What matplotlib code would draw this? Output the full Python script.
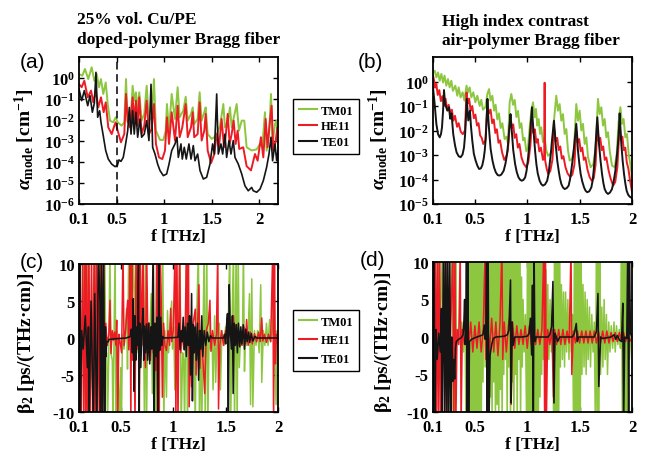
import matplotlib
matplotlib.use("Agg")
import numpy as np
from matplotlib import pyplot as plt
from matplotlib.lines import Line2D
from matplotlib.ticker import NullLocator

GREEN = "#8dc63f"
RED = "#ed1c24"
BLACK = "#151515"
LABELS = ["TM01", "HE11", "TE01"]

# ---------- (a) doped-polymer fiber, loss (log10 of alpha in cm^-1) ----------
f_a_tm = [0.100, 0.135, 0.163, 0.198, 0.234, 0.262, 0.287, 0.311, 0.332, 0.356, 0.382, 0.403, 0.427, 0.462,
          0.487, 0.508, 0.550, 0.578, 0.596, 0.614, 0.649, 0.666, 0.683, 0.701, 0.719, 0.736, 0.761, 0.789,
          0.814, 0.838, 0.867, 0.891, 0.912, 0.955, 0.990, 1.015, 1.028, 1.050, 1.078, 1.113, 1.141, 1.162,
          1.200, 1.226, 1.247, 1.282, 1.300, 1.316, 1.352, 1.373, 1.394, 1.422, 1.437, 1.458, 1.500, 1.528,
          1.553, 1.588, 1.623, 1.640, 1.675, 1.693, 1.711, 1.746, 1.764, 1.788, 1.817, 1.844, 1.869, 1.922,
          1.975, 2.010, 2.034, 2.062, 2.080, 2.108, 2.126, 2.143, 2.168, 2.186, 2.200]
lg_a_tm = [0.19, 0.11, 0.43, -0.05, 0.51, -0.13, 0.19, -0.44, -0.05, -0.76, -0.21, -1.24, -2.03, -2.11,
           -1.87, -2.11, -2.27, -2.11, -0.05, -2.11, -1.71, -0.37, -1.08, -0.68, -1.56, -0.68, -2.03, -1.71,
           -0.37, -2.03, -1.87, -0.05, -2.51, -2.95, -2.95, -2.51, -1.24, -2.51, -0.76, -1.95, -0.44, -1.87,
           -1.56, -0.89, -2.03, -1.71, -1.40, -2.19, -1.95, -0.68, -2.03, -1.63, -1.40, -2.67, -2.90, -2.82,
           -2.67, -2.27, -1.24, -2.35, -2.03, -1.40, -2.35, -1.63, -1.24, -2.51, -2.03, -2.03, -3.30, -3.45,
           -3.40, -3.14, -3.30, -1.63, -3.46, -2.51, -0.76, -3.14, -2.19, -2.03, -3.30]

f_a_he = [0.100, 0.128, 0.156, 0.192, 0.227, 0.251, 0.276, 0.304, 0.332, 0.360, 0.382, 0.409, 0.445, 0.473,
          0.487, 0.508, 0.543, 0.578, 0.596, 0.614, 0.638, 0.666, 0.683, 0.701, 0.719, 0.736, 0.761, 0.789,
          0.814, 0.838, 0.867, 0.891, 0.912, 0.944, 0.979, 1.007, 1.028, 1.050, 1.078, 1.113, 1.141, 1.162,
          1.190, 1.226, 1.247, 1.282, 1.300, 1.316, 1.352, 1.373, 1.394, 1.422, 1.437, 1.458, 1.494, 1.528,
          1.553, 1.577, 1.605, 1.630, 1.648, 1.669, 1.690, 1.711, 1.732, 1.753, 1.774, 1.791, 1.833, 1.869,
          1.915, 1.957, 1.985, 2.020, 2.045, 2.070, 2.090, 2.115, 2.133, 2.150, 2.176, 2.193, 2.200]
lg_a_he = [-0.29, -0.44, -0.13, -0.92, -0.60, -1.16, -0.60, -1.40, -0.92, -1.63, -1.16, -2.35, -2.67, -2.27,
           -2.11, -2.51, -3.06, -2.67, -0.76, -2.03, -2.35, -0.92, -2.03, -1.08, -2.27, -0.92, -2.67, -2.27,
           -1.08, -2.67, -2.43, -1.24, -3.14, -3.78, -3.86, -3.46, -1.87, -3.14, -1.63, -2.98, -1.32, -2.82,
           -2.35, -1.24, -2.82, -2.35, -1.63, -2.82, -2.67, -1.16, -2.98, -2.51, -1.71, -3.46, -4.05, -3.62,
           -2.67, -3.30, -1.95, -3.30, -2.75, -1.71, -3.14, -2.67, -2.03, -3.14, -2.51, -3.38, -3.30, -4.20,
           -4.40, -3.62, -3.94, -2.82, -3.78, -1.95, -3.30, -2.03, -1.32, -3.46, -2.98, -2.35, -3.14]

f_a_te = [0.100, 0.128, 0.156, 0.192, 0.216, 0.241, 0.262, 0.279, 0.297, 0.318, 0.332, 0.356, 0.382, 0.409,
          0.445, 0.480, 0.504, 0.522, 0.543, 0.567, 0.592, 0.614, 0.631, 0.649, 0.666, 0.683, 0.701, 0.719,
          0.744, 0.761, 0.789, 0.814, 0.838, 0.860, 0.877, 0.902, 0.930, 0.955, 0.990, 1.025, 1.050, 1.078,
          1.113, 1.134, 1.148, 1.176, 1.190, 1.211, 1.232, 1.260, 1.282, 1.306, 1.324, 1.352, 1.377, 1.412,
          1.447, 1.482, 1.510, 1.528, 1.553, 1.570, 1.598, 1.616, 1.640, 1.658, 1.683, 1.704, 1.728, 1.746,
          1.781, 1.817, 1.851, 1.886, 1.922, 1.939, 1.975, 2.010, 2.045, 2.080, 2.105, 2.126, 2.143, 2.168,
          2.186, 2.200]
lg_a_te = [-0.52, -1.08, -0.60, -1.32, -0.84, -1.63, -1.20, 0.27, -1.87, -1.56, -2.11, -2.75, -3.46, -3.86,
           -4.10, -4.22, -4.17, -3.90, -3.97, -3.78, -3.14, -2.51, -1.40, -2.67, -1.56, -2.67, -1.63, -2.82,
           -1.95, -2.82, -2.67, -2.03, -2.98, -0.30, -3.30, -3.62, -4.10, -4.41, -4.65, -4.57, -4.10, -3.46,
           -3.14, -2.82, -3.78, -3.14, -3.86, -3.30, -3.86, -3.14, -3.86, -3.22, -3.94, -3.62, -4.41, -4.81,
           -4.73, -4.10, -3.14, -3.62, -0.76, -3.62, -3.14, -3.62, -2.67, -3.78, -2.98, -3.62, -2.98, -3.78,
           -4.10, -4.57, -5.13, -5.37, -5.21, -5.37, -5.44, -5.29, -4.89, -4.25, -3.62, -2.82, -3.94, -3.14,
           -3.94, -3.46]

# ---------- (b) air-polymer fiber, loss (f, log10 alpha) ----------
a_b_tm = [(0.100, 0.37), (0.116, 0.44), (0.132, 0.17), (0.148, 0.37), (0.164, 0.03), (0.180, 0.31),
          (0.196, -0.04), (0.210, 0.24), (0.227, -0.17), (0.243, 0.10), (0.259, -0.24), (0.275, 0.03),
          (0.290, -0.38), (0.313, -0.17), (0.332, -0.58), (0.345, -0.24), (0.364, -0.65), (0.383, -0.44),
          (0.400, -0.78), (0.420, -0.17), (0.434, -0.44), (0.450, -0.24), (0.466, -0.65), (0.485, -0.44),
          (0.504, -0.85), (0.523, -0.58), (0.546, -1.00), (0.561, -0.75), (0.577, -1.15), (0.600, -1.05),
          (0.619, -0.51), (0.635, -0.31), (0.650, -0.78), (0.667, -0.58), (0.683, -1.19), (0.698, -0.95),
          (0.714, -1.55), (0.730, -1.30), (0.746, -1.90), (0.762, -1.70), (0.784, -2.35), (0.803, -2.25),
          (0.816, -2.55), (0.832, -0.85), (0.848, -0.51), (0.864, -0.95), (0.880, -0.75), (0.896, -1.45),
          (0.912, -1.20), (0.928, -1.90), (0.944, -1.70), (0.960, -2.40), (0.975, -2.30), (0.991, -2.85),
          (1.007, -2.69), (1.023, -1.87), (1.039, -1.19), (1.055, -0.85), (1.071, -1.46), (1.083, -1.12),
          (1.096, -1.80), (1.109, -1.53), (1.122, -2.14), (1.134, -1.87), (1.150, -2.48), (1.166, -2.28),
          (1.182, -2.82), (1.198, -3.03), (1.217, -2.96), (1.236, -2.82), (1.255, -1.60), (1.277, -0.58),
          (1.293, -1.19), (1.309, -0.92), (1.325, -1.60), (1.341, -1.33), (1.357, -2.14), (1.373, -1.94),
          (1.389, -2.82), (1.405, -3.23), (1.427, -3.16), (1.446, -2.82), (1.468, -0.92), (1.484, -1.60),
          (1.500, -1.19), (1.516, -2.00), (1.532, -1.73), (1.548, -2.55), (1.564, -2.28), (1.580, -3.09),
          (1.605, -3.50), (1.631, -3.37), (1.653, -2.69), (1.675, -0.71), (1.691, -1.33), (1.707, -1.05),
          (1.723, -1.80), (1.739, -1.53), (1.755, -2.28), (1.771, -2.07), (1.787, -2.82), (1.809, -3.43),
          (1.835, -3.50), (1.854, -2.96), (1.873, -1.60), (1.889, -1.05), (1.905, -1.73), (1.920, -1.53),
          (1.936, -2.28), (1.952, -2.14), (1.968, -2.96), (1.984, -3.37), (2.000, -3.90)]

a_b_he = [(0.100, 0.24), (0.110, 0.05), (0.120, -0.25), (0.132, -0.10), (0.145, -0.55), (0.160, -0.35),
          (0.175, -0.80), (0.190, -0.60), (0.205, -1.00), (0.220, -0.70), (0.235, -1.15), (0.250, -0.95),
          (0.265, -1.35), (0.280, -1.15), (0.295, -1.60), (0.310, -1.40), (0.330, -1.85), (0.345, -1.70),
          (0.365, -2.05), (0.385, -2.15), (0.405, -2.00), (0.420, -0.45), (0.432, -0.90), (0.445, -0.70),
          (0.460, -1.20), (0.475, -1.00), (0.490, -1.50), (0.505, -1.35), (0.520, -1.80), (0.535, -1.70),
          (0.550, -2.20), (0.565, -2.30), (0.580, -2.55), (0.600, -2.40), (0.620, -0.95), (0.635, -1.30),
          (0.650, -1.15), (0.665, -1.70), (0.680, -1.55), (0.695, -2.10), (0.710, -1.95), (0.725, -2.50),
          (0.740, -2.40), (0.760, -2.90), (0.780, -3.20), (0.800, -3.05), (0.815, -2.80), (0.840, -1.40),
          (0.852, -1.90), (0.866, -1.75), (0.880, -2.30), (0.895, -2.15), (0.910, -2.70), (0.925, -2.55),
          (0.945, -3.10), (0.965, -3.35), (0.990, -3.50), (1.010, -3.30), (1.030, -2.60), (1.045, -1.55),
          (1.058, -2.10), (1.072, -1.95), (1.087, -2.50), (1.100, -2.35), (1.115, -2.85), (1.130, -2.70),
          (1.150, -3.20), (1.162, -3.10), (1.166, -0.05), (1.170, -3.20), (1.185, -3.55), (1.200, -3.78),
          (1.220, -3.65), (1.240, -3.20), (1.258, -1.95), (1.272, -2.45), (1.286, -2.30), (1.300, -2.80),
          (1.315, -2.65), (1.330, -3.15), (1.345, -3.05), (1.365, -3.50), (1.385, -3.75), (1.410, -3.90),
          (1.430, -3.80), (1.450, -3.40), (1.468, -2.00), (1.482, -2.50), (1.496, -2.35), (1.510, -2.85),
          (1.525, -2.70), (1.540, -3.20), (1.555, -3.10), (1.575, -3.60), (1.595, -3.90), (1.615, -4.05),
          (1.635, -3.95), (1.652, -3.40), (1.669, -1.90), (1.683, -2.45), (1.697, -2.30), (1.711, -2.80),
          (1.725, -2.65), (1.740, -3.20), (1.755, -3.10), (1.775, -3.60), (1.795, -3.95), (1.820, -4.25),
          (1.840, -4.10), (1.860, -3.50), (1.882, -1.80), (1.895, -2.40), (1.908, -2.25), (1.922, -2.80),
          (1.936, -2.70), (1.950, -3.30), (1.965, -3.55), (1.980, -4.00), (2.000, -4.50)]

a_b_te = [(0.100, -0.24), (0.116, -0.92), (0.132, -1.73), (0.148, -2.15), (0.164, -2.28), (0.176, -2.15),
          (0.186, -1.87), (0.196, -1.20), (0.205, -0.35), (0.215, -0.90), (0.237, -1.19), (0.253, -1.05),
          (0.264, -1.52), (0.277, -1.30), (0.293, -2.14), (0.310, -2.60), (0.325, -2.89), (0.345, -3.05),
          (0.364, -3.09), (0.382, -2.98), (0.396, -2.70), (0.406, -2.20), (0.412, -1.73), (0.422, -0.71),
          (0.437, -1.59), (0.453, -1.19), (0.462, -1.80), (0.475, -2.41), (0.490, -2.95), (0.507, -3.23),
          (0.525, -3.45), (0.540, -3.57), (0.556, -3.55), (0.570, -3.43), (0.584, -3.15), (0.594, -2.82),
          (0.604, -2.30), (0.610, -1.73), (0.620, -0.71), (0.628, -1.50), (0.636, -2.00), (0.650, -2.75),
          (0.668, -3.23), (0.684, -3.52), (0.700, -3.71), (0.718, -3.82), (0.734, -3.84), (0.752, -3.80),
          (0.775, -3.64), (0.792, -3.35), (0.807, -2.96), (0.818, -2.50), (0.826, -2.00), (0.840, -1.33),
          (0.846, -1.70), (0.852, -2.00), (0.866, -2.80), (0.884, -3.37), (0.900, -3.70), (0.916, -3.91),
          (0.932, -4.01), (0.948, -4.05), (0.965, -4.01), (0.980, -3.91), (0.993, -3.65), (1.005, -3.23),
          (1.016, -2.75), (1.024, -2.28), (1.035, -1.60), (1.045, -1.05), (1.052, -1.60), (1.064, -2.28),
          (1.076, -2.90), (1.087, -3.37), (1.100, -3.75), (1.118, -4.05), (1.134, -4.19), (1.150, -4.25),
          (1.170, -4.20), (1.190, -4.05), (1.203, -3.78), (1.214, -3.37), (1.226, -2.90), (1.236, -2.41),
          (1.246, -2.00), (1.255, -1.60), (1.264, -2.10), (1.274, -2.69), (1.287, -3.25), (1.300, -3.64),
          (1.312, -3.95), (1.325, -4.18), (1.340, -4.32), (1.357, -4.39), (1.377, -4.35), (1.395, -4.25),
          (1.408, -4.00), (1.420, -3.64), (1.433, -3.20), (1.446, -2.69), (1.457, -2.20), (1.468, -1.73),
          (1.476, -2.20), (1.484, -2.82), (1.497, -3.35), (1.510, -3.78), (1.525, -4.08), (1.542, -4.32),
          (1.557, -4.46), (1.573, -4.52), (1.592, -4.48), (1.612, -4.32), (1.624, -4.05), (1.634, -3.64),
          (1.644, -3.15), (1.653, -2.55), (1.661, -2.00), (1.669, -1.46), (1.677, -2.00), (1.685, -2.55),
          (1.700, -3.25), (1.714, -3.78), (1.727, -4.15), (1.739, -4.39), (1.755, -4.53), (1.771, -4.59),
          (1.790, -4.53), (1.809, -4.39), (1.826, -4.05), (1.841, -3.64), (1.854, -3.10), (1.866, -2.55),
          (1.875, -1.95), (1.882, -1.30), (1.890, -1.95), (1.898, -2.55), (1.911, -3.25), (1.924, -3.78),
          (1.937, -4.18), (1.949, -4.46), (1.963, -4.62), (1.978, -4.70), (2.000, -4.76)]

# ---------- (c) doped-polymer fiber, dispersion (f, beta2) ----------
b2_c_tm = [(0.100, 12), (0.105, -12), (0.150, 12), (0.160, -12), (0.190, 12), (0.196, -12), (0.250, 12),
           (0.258, -12), (0.300, 12), (0.310, -12), (0.345, 12), (0.355, -1.0), (0.365, -2.1), (0.372, -12),
           (0.385, -1.5), (0.395, 12), (0.405, -2.0), (0.418, -3.0), (0.424, -12), (0.435, 1.0), (0.445, 12),
           (0.452, -12), (0.462, 1.0), (0.475, -5.0), (0.488, -12), (0.498, -4.0), (0.505, -12), (0.515, 0.5),
           (0.530, -1.5), (0.545, 2.0), (0.555, 4.0), (0.563, -4.2), (0.575, 12), (0.585, -1.0), (0.600, 2.0),
           (0.620, 12), (0.630, 0.0), (0.645, 12), (0.652, -0.5), (0.665, -2.0), (0.680, 1.0), (0.695, -1.0),
           (0.710, 12), (0.717, 0.0), (0.725, -12), (0.735, 12), (0.745, -12), (0.755, 2.0), (0.770, -2.0),
           (0.790, 6.0), (0.800, -7.5), (0.810, 12), (0.818, -1.0), (0.826, -3.0), (0.832, -12), (0.845, 2.0),
           (0.860, -2.0), (0.875, 3.0), (0.890, -1.0), (0.900, 12), (0.910, -12), (0.920, 1.0), (0.935, -8.0),
           (0.945, 3.7), (0.955, -2.0), (0.970, 2.0), (0.985, 5.0), (0.992, -1.5), (1.005, 1.5), (1.015, -7.0),
           (1.030, 1.0), (1.050, -1.0), (1.065, 12), (1.075, -12), (1.090, -2.0), (1.100, -3.0), (1.108, -12),
           (1.118, 1.0), (1.126, 12), (1.135, -12), (1.150, 1.0), (1.170, -1.0), (1.185, 2.0), (1.200, -2.0),
           (1.210, -12), (1.220, 1.0), (1.240, 12), (1.250, -12), (1.265, 1.0), (1.272, -12), (1.285, 2.0),
           (1.295, 12), (1.305, -12), (1.320, 12), (1.330, -12), (1.345, 3.5), (1.355, -1.5), (1.370, 0.5),
           (1.380, -7.0), (1.395, 3.0), (1.405, -6.0), (1.420, 1.0), (1.440, 2.0), (1.450, -7.0), (1.465, 1.0),
           (1.485, -1.0), (1.500, 1.5), (1.520, -1.0), (1.540, 12), (1.548, -12), (1.560, 1.0), (1.575, 12),
           (1.585, -12), (1.600, 12), (1.610, -12), (1.620, 12), (1.630, -4.0), (1.645, 1.0), (1.660, -1.0),
           (1.670, 12), (1.680, -4.5), (1.690, 1.0), (1.700, -1.0), (1.715, 1.0), (1.728, 6.0), (1.738, -9.0),
           (1.750, 8.0), (1.760, -9.3), (1.775, 1.0), (1.790, -1.0), (1.805, 1.0), (1.820, -2.0), (1.835, 7.2),
           (1.845, -6.0), (1.860, 1.0), (1.875, -1.0), (1.890, 2.0), (1.905, -1.0), (1.920, 2.5), (1.930, -0.5),
           (1.945, 1.0), (1.960, 5.0), (1.970, -3.0), (1.982, -9.0), (1.992, 1.0), (2.000, -2.0)]

b2_c_he = [(0.100, -12), (0.110, 12), (0.120, -12), (0.135, 12), (0.145, -12), (0.157, 12), (0.165, -12),
           (0.173, 12), (0.182, -12), (0.195, 12), (0.205, -12), (0.220, 12), (0.230, -12), (0.245, 12),
           (0.253, -12), (0.265, 12), (0.275, -12), (0.285, 12), (0.295, -12), (0.310, 12), (0.320, -12),
           (0.335, 12), (0.342, -12), (0.355, 2.0), (0.370, -1.0), (0.385, 0.5), (0.396, 5.1), (0.405, -2.1),
           (0.418, 1.0), (0.428, -0.3), (0.440, 0.8), (0.452, -1.0), (0.460, 2.4), (0.470, -12), (0.480, 0.5),
           (0.492, -0.5), (0.507, -2.0), (0.520, 12), (0.530, -1.0), (0.545, 1.0), (0.555, 3.3), (0.565, 5.1),
           (0.575, -1.6), (0.587, 12), (0.595, -12), (0.603, 12), (0.612, -3.0), (0.625, 2.0), (0.635, -12),
           (0.645, 12), (0.655, -1.5), (0.668, 12), (0.676, -12), (0.684, 12), (0.700, -1.0), (0.712, 12),
           (0.722, 0.5), (0.735, -4.0), (0.746, 12), (0.758, -1.0), (0.770, 2.0), (0.782, -3.0), (0.795, 1.5),
           (0.808, -2.0), (0.820, 1.0), (0.832, -4.4), (0.842, 12), (0.850, -12), (0.858, 12), (0.866, -12),
           (0.875, 12), (0.885, 5.0), (0.896, -8.0), (0.908, 2.0), (0.920, -1.0), (0.935, -1.7), (0.950, 1.0),
           (0.965, -1.0), (0.975, 4.0), (0.985, -0.5), (1.000, 1.0), (1.017, 12), (1.025, -12), (1.035, 12),
           (1.045, -12), (1.060, 12), (1.072, -2.0), (1.085, 1.0), (1.100, -1.5), (1.115, 2.0), (1.126, 12),
           (1.135, -1.0), (1.145, 12), (1.152, -9.3), (1.165, 1.0), (1.175, -6.6), (1.190, 2.0), (1.210, 3.9),
           (1.218, -5.0), (1.230, 1.0), (1.245, 7.2), (1.255, -4.1), (1.268, 1.0), (1.280, -2.0), (1.300, -7.5),
           (1.315, 1.0), (1.335, 2.0), (1.350, 5.1), (1.360, -1.8), (1.375, 1.0), (1.395, -1.0), (1.412, 0.5),
           (1.425, 12), (1.432, -9.6), (1.445, -1.0), (1.460, 1.0), (1.480, -1.0), (1.500, 1.0), (1.520, -0.5),
           (1.540, 1.0), (1.560, -1.0), (1.575, 3.0), (1.585, -0.4), (1.600, 1.8), (1.615, -1.0), (1.635, 0.8),
           (1.655, -1.0), (1.675, 1.5), (1.690, -0.8), (1.700, 2.5), (1.715, -1.0), (1.735, 0.8), (1.755, -0.8),
           (1.775, 0.6), (1.795, -0.5), (1.815, 0.8), (1.830, -0.5), (1.845, 2.7), (1.855, -0.4), (1.870, 0.5),
           (1.890, -0.6), (1.910, 0.5), (1.930, -0.5), (1.950, 12), (1.958, -12), (1.966, 12), (1.975, -3.5),
           (1.985, 0.5), (2.000, -1.0)]

b2_c_te = [(0.100, 12), (0.103, -12), (0.107, 12), (0.112, -12), (0.125, 1.0), (0.140, -1.5), (0.160, 3.0),
           (0.180, -4.0), (0.190, 1.5), (0.195, -12), (0.215, 5.0), (0.237, -12), (0.250, 6.0), (0.270, -12),
           (0.285, 12), (0.300, 4.8), (0.305, -12), (0.315, 12), (0.325, -12), (0.335, 12), (0.345, -12),
           (0.352, 1.5), (0.358, -2.5), (0.364, -0.5), (0.380, -0.5), (0.385, -0.2), (0.450, -0.1),
           (0.550, 0.0), (0.590, 0.2), (0.600, 1.2), (0.610, -2.0), (0.618, 5.3), (0.626, -7.2), (0.634, 3.0),
           (0.642, -3.0), (0.650, 1.5), (0.660, -1.0), (0.668, 12), (0.672, -12), (0.680, 2.0), (0.690, -4.0),
           (0.700, 1.0), (0.712, 4.0), (0.718, -3.0), (0.726, 1.6), (0.735, -2.0), (0.745, 1.9), (0.755, -3.0),
           (0.765, 2.0), (0.775, -3.5), (0.785, 1.5), (0.795, -1.5), (0.808, 12), (0.815, -12), (0.825, 2.0),
           (0.835, -2.5), (0.845, 2.8), (0.855, -12), (0.862, 12), (0.870, -1.7), (0.880, 2.8), (0.890, -1.0),
           (0.900, 0.2), (0.905, 0.0), (1.000, 0.05), (1.045, 0.1), (1.055, 2.0), (1.065, -1.6), (1.075, 1.0),
           (1.085, -0.5), (1.095, 2.8), (1.105, -1.6), (1.115, 1.5), (1.125, -2.5), (1.135, 2.0), (1.145, -1.0),
           (1.155, 3.0), (1.165, -5.0), (1.175, 6.0), (1.183, -8.5), (1.192, 1.8), (1.200, -2.0), (1.210, 1.5),
           (1.220, -3.0), (1.232, 2.0), (1.242, -5.7), (1.252, 1.0), (1.262, -1.5), (1.272, 3.0), (1.282, -2.5),
           (1.295, 1.0), (1.310, -1.0), (1.325, 0.8), (1.340, -0.5), (1.355, 0.3), (1.370, 0.0), (1.480, 0.0),
           (1.490, 0.5), (1.500, -0.8), (1.510, 2.0), (1.518, 3.3), (1.526, -12), (1.534, 7.2), (1.545, 1.0),
           (1.555, -1.5), (1.565, 3.0), (1.572, -7.5), (1.582, 2.0), (1.592, -1.0), (1.602, 1.8), (1.612, -2.0),
           (1.622, 2.0), (1.635, -1.2), (1.645, 1.5), (1.655, -0.8), (1.668, 1.8), (1.680, -1.5), (1.692, 1.2),
           (1.705, -0.5), (1.718, 0.8), (1.730, -0.6), (1.745, 0.6), (1.760, -0.4), (1.780, 0.2), (1.800, 0.0),
           (2.000, 0.0)]

# ---------- (d) air-polymer fiber, dispersion (f, beta2) ----------
b2_d_tm = [(0.100, 6.5), (0.103, -12), (0.115, 0.5), (0.130, -1.0), (0.150, 12), (0.156, -2.0), (0.170, 1.0),
           (0.190, 12), (0.196, -3.0), (0.215, 1.0), (0.240, -1.0), (0.265, 2.0), (0.285, 12), (0.292, -12),
           (0.300, 12), (0.308, -12), (0.316, 12), (0.324, -0.5), (0.340, 1.0), (0.360, -1.0), (0.375, 2.0),
           (0.390, -2.0), (0.405, 3.0), (0.415, -12), (0.425, 12), (0.433, -12), (0.441, 12), (0.449, -12),
           (0.457, 12), (0.465, -12), (0.473, 12), (0.481, -12), (0.489, 12), (0.497, -12), (0.505, 12),
           (0.513, -12), (0.521, 12), (0.529, -12), (0.537, 12), (0.545, -12), (0.553, 12), (0.561, -12),
           (0.569, 12), (0.577, -6.0), (0.588, 12), (0.598, -4.0), (0.608, 12), (0.616, -12), (0.624, 12),
           (0.632, -12), (0.640, 12), (0.648, -8.0), (0.656, 12), (0.664, -12), (0.672, 12), (0.680, -6.0),
           (0.688, 12), (0.696, -12), (0.704, 12), (0.712, -9.0), (0.720, 12), (0.728, -12), (0.736, 12),
           (0.744, -7.0), (0.752, 12), (0.760, -12), (0.768, 12), (0.776, -5.0), (0.784, 12), (0.792, -3.0),
           (0.800, 12), (0.808, -12), (0.816, 12), (0.824, -4.0), (0.832, 12), (0.840, -12), (0.848, 12),
           (0.856, -6.0), (0.864, 12), (0.872, -12), (0.880, 12), (0.888, -5.0), (0.896, 12), (0.904, -12),
           (0.912, 12), (0.920, -3.0), (0.928, 12), (0.936, -12), (0.944, 8.0), (0.952, -4.0), (0.960, 5.0),
           (0.970, -2.0), (0.982, 3.0), (0.994, -12), (1.002, 12), (1.010, -12), (1.018, 12), (1.026, -12),
           (1.034, 12), (1.042, -12), (1.050, 12), (1.058, -12), (1.066, 12), (1.074, -12), (1.082, 12),
           (1.090, -12), (1.098, 12), (1.106, -12), (1.114, 12), (1.122, -8.0), (1.130, 12), (1.138, -5.0),
           (1.146, 12), (1.154, -3.0), (1.162, 12), (1.170, -4.0), (1.178, 9.0), (1.186, -2.0), (1.196, 7.0),
           (1.206, -3.0), (1.218, 5.0), (1.230, -2.0), (1.242, 3.0), (1.252, -12), (1.260, 12), (1.268, -12),
           (1.276, 12), (1.284, -12), (1.292, 12), (1.300, -12), (1.308, 12), (1.316, -4.0), (1.326, 7.0),
           (1.336, -3.0), (1.346, 6.0), (1.356, -4.0), (1.366, 6.0), (1.376, -2.0), (1.388, 5.0), (1.398, -3.0),
           (1.410, 4.0), (1.420, -2.0), (1.432, 3.0), (1.442, -12), (1.450, 12), (1.458, -12), (1.466, 12),
           (1.474, -12), (1.482, 12), (1.490, -12), (1.498, 12), (1.506, -12), (1.514, 12), (1.522, -5.0),
           (1.532, 7.0), (1.542, -4.0), (1.552, 6.0), (1.562, -5.0), (1.572, 5.0), (1.582, -3.0), (1.594, 4.0),
           (1.604, -4.0), (1.616, 3.0), (1.628, -2.0), (1.640, 2.0), (1.650, -12), (1.660, 12), (1.668, -12),
           (1.676, 12), (1.684, -12), (1.692, 12), (1.700, -5.0), (1.712, 4.0), (1.722, -4.0), (1.734, 5.0),
           (1.744, -3.0), (1.756, 3.0), (1.766, -5.0), (1.778, 2.0), (1.790, -2.0), (1.802, 1.5), (1.815, -1.5),
           (1.828, 2.0), (1.840, -2.0), (1.852, 1.5), (1.865, -1.0), (1.878, 1.0), (1.890, -1.5), (1.900, 12),
           (1.908, -12), (1.916, 12), (1.924, -12), (1.932, 12), (1.940, -12), (1.948, 12), (1.956, -12),
           (1.964, 5.0), (1.975, -3.0), (1.990, 0.5), (2.000, -0.5)]

b2_d_he = [(0.100, 3.0), (0.110, -2.0), (0.125, 12), (0.132, -12), (0.145, 12), (0.152, -12), (0.165, 12),
           (0.172, -12), (0.190, 2.0), (0.205, -1.5), (0.220, 12), (0.230, -12), (0.250, 1.0), (0.265, -1.0),
           (0.290, 12), (0.298, -12), (0.310, 12), (0.318, -12), (0.330, 1.0), (0.345, -1.0), (0.360, 12),
           (0.368, -12), (0.380, 1.0), (0.400, -1.0), (0.420, 1.5), (0.440, -1.5), (0.460, 2.0), (0.480, -2.0),
           (0.500, 1.5), (0.520, -1.5), (0.540, 2.0), (0.560, -2.0), (0.580, 1.0), (0.598, 12), (0.604, -3.0),
           (0.620, 2.0), (0.640, -2.0), (0.660, 2.5), (0.680, -2.0), (0.700, 2.0), (0.720, -2.5), (0.740, 2.0),
           (0.758, 12), (0.766, -3.0), (0.780, 2.0), (0.800, -2.0), (0.820, 1.5), (0.836, 3.0), (0.846, -9.0),
           (0.860, 2.0), (0.880, -1.5), (0.900, 1.5), (0.920, -1.0), (0.940, 1.0), (0.960, -1.0), (0.980, 1.5),
           (1.000, -1.5), (1.020, 1.5), (1.040, -1.0), (1.060, 1.0), (1.080, -1.0), (1.100, 1.0), (1.120, -1.0),
           (1.140, 1.0), (1.158, 12), (1.166, -12), (1.174, 12), (1.182, -12), (1.195, 1.0), (1.215, -1.0),
           (1.235, 1.0), (1.250, -8.0), (1.262, 1.0), (1.280, -1.0), (1.300, 1.0), (1.320, -1.0), (1.340, 1.0),
           (1.360, -1.0), (1.380, 0.8), (1.400, -0.8), (1.418, 12), (1.425, -5.0), (1.440, 0.8), (1.460, -0.8),
           (1.480, 0.8), (1.500, -0.8), (1.520, 0.8), (1.540, -0.8), (1.560, 0.8), (1.580, -0.8), (1.600, 0.8),
           (1.620, -0.8), (1.640, 0.8), (1.660, -0.8), (1.680, 0.8), (1.700, -0.8), (1.720, 0.8), (1.740, -0.8),
           (1.760, 0.8), (1.780, -0.8), (1.800, 0.6), (1.820, -0.6), (1.840, 0.6), (1.860, -0.6), (1.880, 0.6),
           (1.900, -0.6), (1.920, 0.6), (1.940, -0.6), (1.960, 0.6), (1.980, -0.6), (2.000, 0.0)]

b2_d_te = [(0.100, 12), (0.104, -12), (0.110, 12), (0.118, -12), (0.128, 1.0), (0.140, -3.0), (0.155, 0.5),
           (0.170, -2.0), (0.180, 3.8), (0.186, -12), (0.200, 12), (0.210, -12), (0.220, 12), (0.230, -12),
           (0.240, 12), (0.250, -12), (0.260, 12), (0.270, -12), (0.280, 0.0), (0.290, -5.9), (0.298, -3.0),
           (0.307, -5.6), (0.315, -1.5), (0.323, -0.6), (0.345, -0.3), (0.370, -0.1), (0.387, 0.3), (0.395, 2.0),
           (0.402, 5.0), (0.408, -1.0), (0.414, 0.5), (0.420, 12), (0.426, -12), (0.432, 12), (0.440, -12),
           (0.448, -0.6), (0.470, -0.3), (0.500, -0.1), (0.560, 0.2), (0.577, 0.3), (0.590, 1.6), (0.598, -0.3),
           (0.605, 1.7), (0.612, 12), (0.618, -12), (0.626, 12), (0.634, -12), (0.645, -2.4), (0.660, -1.0),
           (0.675, -0.2), (0.700, 0.0), (0.780, 0.1), (0.810, 0.3), (0.825, 0.9), (0.840, 7.6), (0.846, -8.8),
           (0.855, 2.0), (0.866, -1.1), (0.880, 0.0), (0.950, 0.0), (1.000, 0.1), (1.018, 0.5), (1.030, 2.5),
           (1.042, -2.4), (1.050, 6.9), (1.058, -12), (1.065, 12), (1.072, -0.6), (1.085, 0.0), (1.200, 0.0),
           (1.215, 0.3), (1.232, 1.4), (1.245, 7.4), (1.255, -8.8), (1.265, 0.5), (1.277, 0.0), (1.290, -0.6),
           (1.310, 0.0), (1.430, 0.0), (1.450, 0.5), (1.468, 1.8), (1.478, -0.6), (1.490, 0.0), (1.640, 0.0),
           (1.660, 0.7), (1.675, 5.8), (1.683, -6.6), (1.700, 0.0), (1.720, -0.2), (1.800, 0.0), (1.830, 0.3),
           (1.845, -0.3), (1.860, 0.2), (1.880, -0.4), (1.900, -0.6), (1.912, 4.5), (1.920, -12), (1.930, 0.0),
           (1.950, -0.2), (1.960, 12), (1.968, -12), (1.975, 12), (1.985, 0.5), (2.000, 0.0)]

W, H = 646, 456

plt.rcParams["font.family"] = "serif"
plt.rcParams["font.serif"] = ["Liberation Serif", "DejaVu Serif"]
plt.rcParams["font.weight"] = "bold"
plt.rcParams["mathtext.fontset"] = "custom"
plt.rcParams["mathtext.rm"] = "Liberation Serif:bold"
plt.rcParams["mathtext.it"] = "Liberation Serif:italic:bold"
plt.rcParams["mathtext.bf"] = "Liberation Serif:bold"
plt.rcParams["axes.unicode_minus"] = False


def _split(pairs):
    f, v = zip(*pairs)
    return np.array(f), np.array(v)


def _axes(fig, x0, y0, x1, y1):
    # pixel box (left, top, right, bottom) -> figure fraction
    return fig.add_axes([x0 / W, 1 - y1 / H, (x1 - x0) / W, (y1 - y0) / H])


def _style(ax, xmax):
    for s in ax.spines.values():
        s.set_linewidth(1.3)
    ax.tick_params(direction="in", length=3.5, width=1.0, top=True, right=True, labelsize=12)
    ax.tick_params(axis="x", pad=5)
    ax.tick_params(axis="y", pad=3)
    ax.set_xlim(0.1, xmax)
    ax.set_xticks([0.1, 0.5, 1, 1.5, 2])
    ax.set_xticklabels(["0.1", "0.5", "1", "1.5", "2"], fontweight="bold")
    ax.set_xlabel("f [THz]", fontsize=12.5, fontweight="bold", labelpad=1)
    ax.yaxis.set_minor_locator(NullLocator())


def _log_ticks(ax, exps):
    ax.set_yticks([10.0 ** e for e in exps])
    ax.set_yticklabels([r"$\mathrm{10^{%d}}$" % e for e in exps])
    ax.yaxis.set_minor_locator(NullLocator())


def _legend(fig, top_px, rows):
    handles = [Line2D([], [], color=c, lw=1.5) for c in (GREEN, RED, BLACK)]
    leg = fig.legend(handles, LABELS, loc="upper left", bbox_to_anchor=(293 / W, 1 - top_px / H),
                     prop={"size": 9, "weight": "bold", "family": "serif"}, handlelength=1.45,
                     handletextpad=0.3, labelspacing=rows, borderpad=0.45, borderaxespad=0,
                     fancybox=False, framealpha=1)
    leg.get_frame().set_edgecolor("black")
    leg.get_frame().set_linewidth(1.0)


fig = plt.figure(figsize=(W / 100, H / 100), dpi=100)
ALPHA_LABEL = r"$\alpha_{\mathrm{mode}}$ [cm$^{\mathrm{-1}}$]"

# (a)
ax = _axes(fig, 79, 58, 278, 205)
ax.plot(f_a_tm, 10 ** np.array(lg_a_tm), color=GREEN, lw=1.4)
ax.plot(f_a_he, 10 ** np.array(lg_a_he), color=RED, lw=1.4)
ax.plot(f_a_te, 10 ** np.array(lg_a_te), color=BLACK, lw=1.2)
ax.set_yscale("log")
ax.axvline(0.5, color="black", lw=1.1, ls=(0, (5, 3)))
ax.set_ylim(1e-6, 10)
_style(ax, 2.2)
_log_ticks(ax, [-6, -5, -4, -3, -2, -1, 0])
ax.set_ylabel(ALPHA_LABEL, fontsize=14, fontweight="bold")
ax.yaxis.set_label_coords(-0.21, 0.45)

# (b)
ax = _axes(fig, 433, 58, 632, 205)
for pairs, c in [(a_b_tm, GREEN), (a_b_he, RED), (a_b_te, BLACK)]:
    f, v = _split(pairs)
    ax.plot(f, 10 ** v, color=c, lw=1.4)
ax.set_yscale("log")
ax.set_ylim(1e-5, 10)
_style(ax, 2.0)
_log_ticks(ax, [-5, -4, -3, -2, -1, 0])
ax.set_ylabel(ALPHA_LABEL, fontsize=14, fontweight="bold")
ax.yaxis.set_label_coords(-0.21, 0.45)

# (c) and (d)
for box, series, xl in [((79, 265, 278, 413), (b2_c_tm, b2_c_he, b2_c_te), -0.21),
                        ((433, 263, 632, 413), (b2_d_tm, b2_d_he, b2_d_te), -0.195)]:
    ax = _axes(fig, *box)
    for pairs, c, lw in zip(series, (GREEN, RED, BLACK), (1.1, 1.1, 1.15)):
        f, v = _split(pairs)
        ax.plot(f, v, color=c, lw=lw)
    ax.set_ylim(-10, 10)
    ax.set_yticks([-10, -5, 0, 5, 10])
    ax.set_yticklabels(["-10", "-5", "0", "5", "10"], fontweight="bold")
    _style(ax, 2.0)
    ax.set_ylabel("β$_{\\mathrm{2}}$ [ps/(THz·cm)]", fontsize=14, fontweight="bold")
    ax.yaxis.set_label_coords(xl, 0.47)

_legend(fig, 100, 0.3)
_legend(fig, 311, 0.55)

# titles and panel letters
title_kw = dict(fontsize=12.5, fontweight="bold", va="baseline")
fig.text(77 / W, 1 - 24 / H, "25% vol. Cu/PE", **title_kw)
fig.text(77 / W, 1 - 44 / H, "doped-polymer Bragg fiber", **title_kw)
fig.text(442 / W, 1 - 26 / H, "High index contrast", **title_kw)
fig.text(442 / W, 1 - 45 / H, "air-polymer Bragg fiber", **title_kw)
for x, y, s in [(20, 63, "(a)"), (358, 63, "(b)"), (20, 263, "(c)"), (360, 260, "(d)")]:
    fig.text(x / W, 1 - y / H, s, fontsize=15, family="Liberation Sans", weight="normal", va="center")

plt.savefig("out.png", dpi=100)
plt.close()
